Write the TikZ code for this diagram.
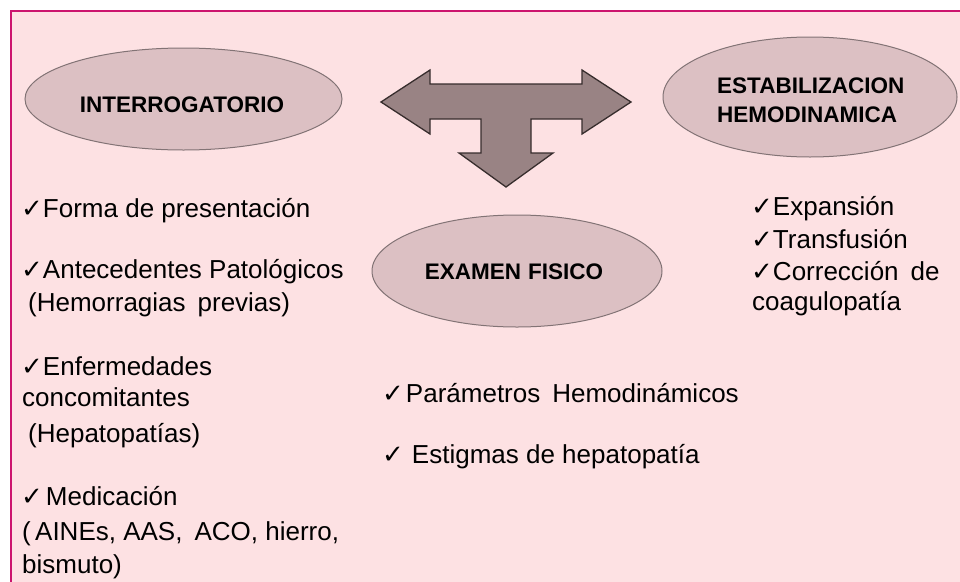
\documentclass[tikz,border=0pt]{standalone}
\usepackage{fontspec}
\setmainfont{Liberation Sans}
\newfontfamily\symf{DejaVu Sans}
\usetikzlibrary{shapes.geometric}
\definecolor{bgpink}{RGB}{253,225,227}
\definecolor{framec}{RGB}{204,20,110}
\definecolor{ellfill}{RGB}{220,192,195}
\definecolor{elldraw}{RGB}{130,115,117}
\definecolor{arrfill}{RGB}{153,131,132}
\definecolor{arrdraw}{RGB}{55,45,45}
\newcommand\chk{{\symf\fontsize{26}{26}\selectfont ✓}}
\tikzset{
  oval/.style={ellipse, draw=elldraw, line width=1pt, fill=ellfill, inner sep=0pt},
  ovaltext/.style={font=\bfseries\fontsize{22.5}{29}\selectfont, align=left, inner sep=0pt},
  body/.style={anchor=base west, inner sep=0pt, font=\fontsize{26}{34}\selectfont}
}
\begin{document}
\begin{tikzpicture}[x=1pt,y=-1pt]
\useasboundingbox (0,0) rectangle (960,581);
\fill[white] (0,0) rectangle (960,581);
\fill[bgpink] (11,11) rectangle (975,600);
\draw[framec, line width=2pt] (11,600) -- (11,11) -- (975,11);

% ellipses
\node[oval, minimum width=317pt, minimum height=102pt] (interrog) at (183.5,99) {};
\node[ovaltext, anchor=base] (interrogt) at (182,112) {INTERROGATORIO};
\node[oval, minimum width=294pt, minimum height=120pt] (estab) at (810,97) {};
\node[ovaltext, anchor=base west] (estabt) at (717,93) {ESTABILIZACION};
\node[ovaltext, anchor=base west] (estabt2) at (717,122) {HEMODINAMICA};
\node[oval, minimum width=290pt, minimum height=112pt] (examen) at (517,271) {};
\node[ovaltext, anchor=base] (exament) at (514,279) {EXAMEN\hspace{7pt}FISICO};

% T arrow
\filldraw[fill=arrfill, draw=arrdraw, line width=1.3pt, line join=miter]
  (381,102) -- (430,70) -- (430,84) -- (582,84) -- (582,70) -- (631,102)
  -- (582,134) -- (582,119) -- (531,119) -- (531,153) -- (553,153)
  -- (506,187) -- (459,153) -- (481,153) -- (481,119) -- (430,119)
  -- (430,134) -- cycle;

% left list
\node[body] (l1) at (21,217) {\chk Forma de presentación};
\node[body] (l2) at (21,278) {\chk Antecedentes Patológicos};
\node[body] (l3) at (28,311) {(Hemorragias\hspace{12pt}previas)};
\node[body] (l4) at (21,375) {\chk Enfermedades};
\node[body] (l5) at (22,406) {concomitantes};
\node[body] (l6) at (28,442) {(Hepatopatías)};
\node[body] (l7) at (21,505) {\chk\hspace{3pt}Medicación};
\node[body] (l8) at (22,540) {(\,AINEs, AAS,\hspace{12pt}ACO, hierro,};
\node[body] (l9) at (22,573) {bismuto)};

% middle list
\node[body] (m1) at (382,402) {\chk\hspace{2pt}Parámetros\hspace{12pt}Hemodinámicos};
\node[body] (m2) at (382,463) {\chk\hspace{8pt}Estigmas de hepatopatía};

% right list
\node[body] (r1) at (751,215) {\chk Expansión};
\node[body] (r2) at (751,248) {\chk Transfusión};
\node[body] (r3) at (751,280) {\chk Corrección\hspace{12pt}de};
\node[body] (r4) at (752,310) {coagulopatía};
\end{tikzpicture}
\end{document}
